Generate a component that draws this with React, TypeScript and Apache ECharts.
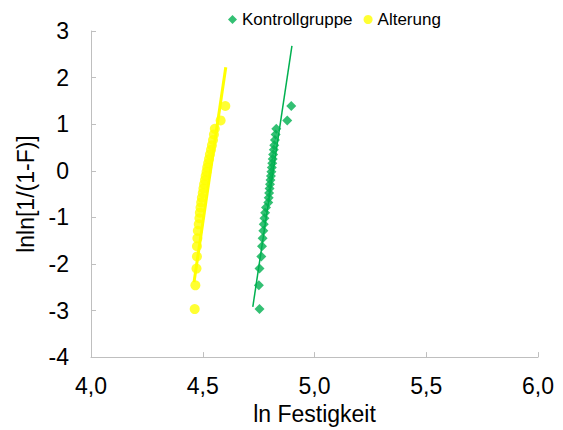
import React, { useEffect, useRef } from "react";
import * as echarts from "echarts";

const yRanks = [-2.97, -2.46, -2.10, -1.84, -1.62, -1.45, -1.29, -1.15, -1.02, -0.90, -0.79, -0.68, -0.58, -0.48, -0.38, -0.29, -0.20, -0.11, -0.02, 0.07, 0.16, 0.25, 0.35, 0.45, 0.55, 0.66, 0.78, 0.90, 1.08, 1.39];

const kontrollX = [4.754, 4.751, 4.754, 4.762, 4.765, 4.768, 4.771, 4.773, 4.776, 4.779, 4.783, 4.793, 4.795, 4.797, 4.799, 4.801, 4.803, 4.805, 4.807, 4.809, 4.811, 4.813, 4.815, 4.818, 4.820, 4.823, 4.826, 4.829, 4.878, 4.896];

const alterungX = [4.464, 4.467, 4.472, 4.474, 4.474, 4.476, 4.478, 4.482, 4.485, 4.487, 4.490, 4.493, 4.496, 4.500, 4.503, 4.506, 4.510, 4.513, 4.517, 4.520, 4.524, 4.528, 4.532, 4.537, 4.541, 4.546, 4.550, 4.554, 4.580, 4.601];

const kontrollFitX = [4.724, 4.899];
const kontrollFitY = [-2.92, 2.68];
const alterungFitX = [4.461, 4.603];
const alterungFitY = [-2.39, 2.22];

const xTicks = { min: 4, max: 6, interval: 0.5 };
const yTicks = { min: -4, max: 3, interval: 1 };

const GREEN = "#00B050";
const YELLOW = "#FFFF00";
const AXIS = "#BFBFBF";
const FONT = "Liberation Sans, Arial, sans-serif";

export default function App() {
  const ref = useRef<HTMLDivElement>(null);
  useEffect(() => {
    if (!ref.current) return;
    const chart = echarts.init(ref.current, undefined, { renderer: "svg" });
    chart.setOption({
      animation: false,
      backgroundColor: "#ffffff",
      textStyle: { fontFamily: FONT },
      legend: {
        top: 6,
        left: 223,
        itemWidth: 9,
        itemHeight: 9,
        itemGap: 11,
        textStyle: { fontSize: 17, color: "#000", fontFamily: FONT },
        data: [
          { name: "Kontrollgruppe", icon: "diamond" },
          { name: "Alterung", icon: "circle" },
        ],
      },
      grid: { left: 91, right: 25, top: 31, bottom: 71 },
      xAxis: {
        type: "value",
        min: xTicks.min,
        max: xTicks.max,
        interval: xTicks.interval,
        name: "ln Festigkeit",
        nameLocation: "middle",
        nameGap: 41,
        nameTextStyle: { fontSize: 23, color: "#000", fontFamily: FONT },
        splitLine: { show: false },
        axisLine: { show: true, onZero: false, lineStyle: { color: AXIS, width: 1 } },
        axisTick: { show: true, inside: true, length: 5, lineStyle: { color: AXIS } },
        axisLabel: {
          fontSize: 23,
          color: "#000",
          margin: 17,
          fontFamily: FONT,
          formatter: (v: number) => v.toFixed(1).replace(".", ","),
        },
      },
      yAxis: {
        type: "value",
        min: yTicks.min,
        max: yTicks.max,
        interval: yTicks.interval,
        name: "lnln[1/(1-F)]",
        nameLocation: "middle",
        nameGap: 49,
        nameTextStyle: { fontSize: 23, color: "#000", fontFamily: FONT },
        splitLine: { show: false },
        axisLine: { show: true, onZero: false, lineStyle: { color: AXIS, width: 1 } },
        axisTick: { show: true, inside: true, length: 5, lineStyle: { color: AXIS } },
        axisLabel: { fontSize: 23, color: "#000", margin: 22, fontFamily: FONT },
      },
      series: [
        {
          name: "Kontrollgruppe",
          type: "scatter",
          symbol: "diamond",
          symbolSize: 10,
          itemStyle: { color: GREEN },
          data: kontrollX.map((x, i) => [x, yRanks[i]]),
          z: 3,
        },
        {
          name: "Alterung",
          type: "scatter",
          symbol: "circle",
          symbolSize: 10,
          itemStyle: { color: YELLOW },
          data: alterungX.map((x, i) => [x, yRanks[i]]),
          z: 3,
        },
        {
          name: "Kontrollgruppe Fit",
          type: "line",
          showSymbol: false,
          symbol: "none",
          lineStyle: { color: GREEN, width: 1.5 },
          data: kontrollFitX.map((x, i) => [x, kontrollFitY[i]]),
          z: 2,
        },
        {
          name: "Alterung Fit",
          type: "line",
          showSymbol: false,
          symbol: "none",
          lineStyle: { color: YELLOW, width: 3 },
          data: alterungFitX.map((x, i) => [x, alterungFitY[i]]),
          z: 2,
        },
      ],
    });
    return () => chart.dispose();
  }, []);
  return (
    <div
      ref={ref}
      style={{ position: "fixed", left: 0, top: 0, width: 563, height: 430 }}
    />
  );
}
